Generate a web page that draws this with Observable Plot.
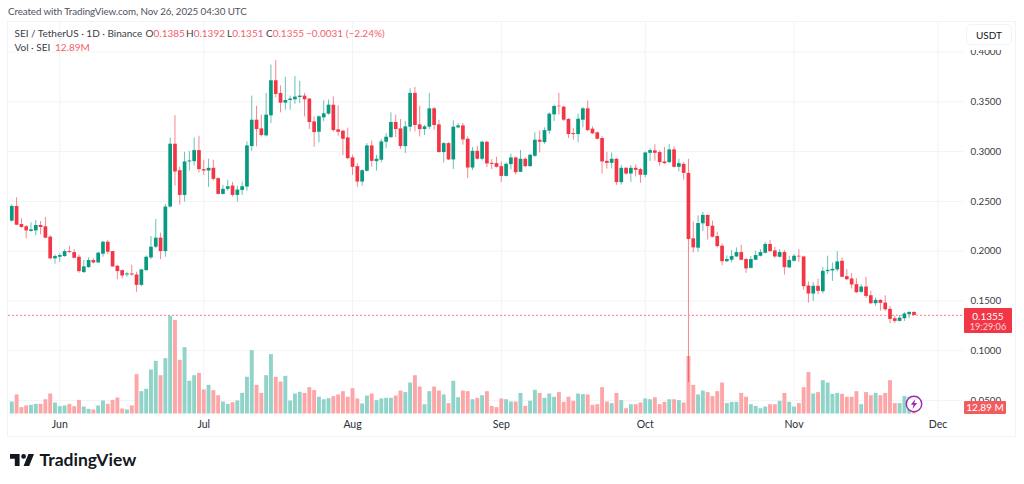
<!DOCTYPE html>
<html>
<head>
<meta charset="utf-8">
<script src="https://cdn.jsdelivr.net/npm/d3@7"></script>
<script src="https://cdn.jsdelivr.net/npm/@observablehq/plot@0.6"></script>
<style>
html,body{margin:0;padding:0;background:#fff;}
#wrap{position:relative;width:1024px;height:484px;overflow:hidden;font-family:Lato,sans-serif;color:#3a3d47;}
#wrap svg{display:block;}
.t{position:absolute;white-space:nowrap;line-height:1;}
.r{color:#f5606c;}
.l{font-size:10px;top:28px;}
</style>
</head>
<body>
<div id="wrap">
  <div id="chart"></div>
  <div class="t" style="left:7px;top:21px;width:1007px;height:414px;border:1px solid #f2f3f6;"></div>
  <div class="t" style="left:8px;top:7px;font-size:9.8px;letter-spacing:-0.1px;color:#50535e;">Created with TradingView.com, Nov 26, 2025 04:30 UTC</div>
  <div class="t l" style="left:14.5px;">SEI / TetherUS · 1D · Binance</div>
  <div class="t l" style="left:145.5px;">O<span class="r">0.1385</span></div>
  <div class="t l" style="left:186px;">H<span class="r">0.1392</span></div>
  <div class="t l" style="left:227px;">L<span class="r">0.1351</span></div>
  <div class="t l" style="left:266px;">C<span class="r">0.1355</span></div>
  <div class="t l r" style="left:306px;">−0.0031 (−2.24%)</div>
  <div class="t l" style="left:14.5px;top:42px;">Vol · SEI</div>
  <div class="t l r" style="left:55px;top:42px;">12.89M</div>

  <div class="t" style="left:964px;top:22px;width:50px;height:28px;background:#fff;"></div>
  <div class="t" style="left:966px;top:24px;width:46px;height:21px;border:1px solid #f0f3fa;border-radius:5px;box-sizing:border-box;background:#fff;font-size:10px;line-height:20px;text-align:center;color:#131722;">USDT</div>

  <div class="t" style="left:964px;top:308px;width:48px;height:25px;background:#f23645;border-radius:1px;color:#fff;text-align:center;">
    <div style="font-size:10px;margin-top:2.5px;">0.1355</div>
    <div style="font-size:9.2px;margin-top:1.5px;color:#fcd5d9;">19:29:06</div>
  </div>
  <div class="t" style="left:964px;top:401px;width:42px;height:12.5px;background:#f45b5f;border-radius:1px;color:#fff;text-align:center;font-size:10px;line-height:12.5px;">12.89 M</div>

  <svg class="t" style="left:903.5px;top:393.5px;" width="20" height="20" viewBox="0 0 20 20">
    <circle cx="10" cy="10" r="7.7" fill="#fff" stroke="#9c27b0" stroke-width="1.4"></circle>
    <path d="M11.4 5 L6.8 10.8 H9.6 L8.4 15 L13.2 8.9 H10.3 Z" fill="#9c27b0"></path>
  </svg>

  <svg class="t" style="left:9.5px;top:454px;" width="24" height="12" viewBox="2 6 30 15">
    <path d="M14 6H2v6h6v9h6V6Zm12 15h-7l6-15h7l-6 15Zm-7-9a3 3 0 1 0 0-6 3 3 0 0 0 0 6Z" fill="#131722" fill-rule="evenodd"></path>
  </svg>
  <div class="t" style="left:39.5px;top:451px;font-size:17.5px;font-weight:700;color:#131722;">TradingView</div>
</div>
<script>
const open = [.2302,.2449,.2268,.2245,.2198,.2204,.2258,.2245,.2141,.1923,.1939,.1946,.1996,.1986,.1939,.1785,.1835,.1906,.1882,.1970,
.2090,.1996,.1849,.1805,.1761,.1771,.1761,.1657,.1805,.1933,.2040,.2131,.1996,.2443,.3074,.2808,.2560,.2896,.2899,.3010,
.2819,.2805,.2832,.2728,.2570,.2621,.2654,.2560,.2610,.2644,.3050,.3315,.3228,.3158,.3359,.3711,.3584,.3486,.3513,.3520,
.3543,.3557,.3527,.3298,.3194,.3339,.3376,.3466,.3218,.3204,.3137,.2936,.2849,.2694,.2802,.3057,.2899,.2913,.3094,.3141,
.3292,.3228,.3050,.3245,.3584,.3268,.3221,.3245,.3429,.3268,.2990,.3080,.2916,.3238,.3258,.3124,
.2835,.3003,.2923,.3094,.2882,.2879,.2849,.2751,.2869,.2936,.2792,.2923,.2849,.2953,.3114,.3090,.3205,.3369,.3456,.3446,
.3322,.3181,.3171,.3315,.3429,.3225,.3188,.3131,.2902,.2882,.2923,.2688,.2832,.2775,.2832,.2819,.2762,.2983,.3007,.2990,
.2896,.2889,.3017,.2842,.2872,.2781,.2124,.2030,.2275,.2359,.2251,.2147,.2050,.1895,.1909,.1942,.1986,.1916,.1828,.1909,
.1949,.1979,.2067,.2003,.1939,.1986,.1832,.1899,.1949,.1942,.1650,.1570,.1647,.1593,.1795,.1802,.1812,.1899,.1744,.1721,
.1664,.1587,.1640,.1553,.1473,.1506,.1479,.1416,.1322,.1295,.1322,.1362,.1385];
const high = [.2466,.2537,.2325,.2258,.2285,.2308,.2298,.2339,.2154,.1963,.1973,.2013,.2050,.2016,.1963,.1906,.1933,.1923,.1990,.2100,
.2107,.1996,.1855,.1812,.1788,.1859,.1788,.1818,.1953,.2147,.2319,.2181,.2470,.3137,.3362,.2845,.2993,.3000,.3137,.3154,
.2913,.2923,.2913,.2735,.2661,.2711,.2691,.2651,.2694,.3097,.3557,.3456,.3366,.3584,.3869,.3913,.3658,.3745,.3557,.3752,
.3705,.3584,.3533,.3349,.3359,.3510,.3517,.3550,.3460,.3215,.3235,.2963,.2879,.2819,.3080,.3107,.2963,.3121,.3181,.3389,
.3366,.3322,.3302,.3631,.3644,.3456,.3262,.3584,.3443,.3315,.3090,.3090,.3309,.3282,.3282,.3147,
.3040,.3054,.3104,.3100,.2919,.2943,.2896,.2886,.2973,.2946,.3010,.2936,.2973,.3188,.3205,.3238,.3389,.3466,.3584,.3456,
.3332,.3231,.3376,.3443,.3507,.3248,.3198,.3154,.2993,.2986,.2929,.2862,.2839,.2859,.2866,.2832,.2996,.3030,.3070,.3007,
.3040,.3070,.3047,.2923,.2889,.2922,.2292,.2355,.2389,.2362,.2302,.2191,.2073,.1952,.2006,.2033,.2060,.1926,.1946,.2000,
.2016,.2087,.2107,.2040,.2016,.2006,.1949,.1966,.2016,.1949,.1691,.1684,.1718,.1838,.1949,.1882,.1996,.1932,.1815,.1775,
.1724,.1664,.1738,.1597,.1530,.1513,.1553,.1446,.1345,.1355,.1382,.1389,.1392];
const low = [.2292,.2255,.2231,.2124,.2191,.2157,.2164,.2124,.1916,.1869,.1889,.1939,.1980,.1923,.1778,.1778,.1829,.1872,.1879,.1939,
.1966,.1839,.1714,.1721,.1738,.1748,.1587,.1644,.1798,.1916,.2027,.1916,.1939,.2433,.2654,.2463,.2493,.2805,.2855,.2785,
.2761,.2641,.2704,.2563,.2563,.2604,.2543,.2493,.2560,.2604,.3003,.3047,.3147,.3147,.3282,.3540,.3389,.3416,.3416,.3476,
.3483,.3349,.3221,.3043,.3087,.3298,.3366,.3198,.3154,.2960,.2919,.2761,.2641,.2651,.2795,.2845,.2805,.2886,.3030,.3131,
.3141,.3023,.2980,.3198,.3198,.3147,.3161,.3221,.3215,.2986,.2886,.2909,.2819,.3228,.3064,.2728,
.2809,.2916,.2906,.2839,.2819,.2835,.2691,.2745,.2815,.2765,.2788,.2839,.2842,.2939,.2986,.3074,.3174,.3302,.3366,.3302,
.3131,.3114,.3087,.3238,.3201,.3174,.3117,.2775,.2825,.2825,.2661,.2664,.2762,.2691,.2745,.2681,.2738,.2902,.2902,.2852,
.2872,.2879,.2835,.2795,.2714,.0682,.1983,.1989,.2198,.2110,.2134,.2033,.1852,.1885,.1882,.1936,.1902,.1778,.1822,.1906,
.1942,.1973,.1989,.1929,.1932,.1761,.1828,.1892,.1889,.1607,.1479,.1496,.1563,.1570,.1765,.1697,.1791,.1734,.1704,.1620,
.1577,.1577,.1526,.1466,.1446,.1399,.1395,.1271,.1275,.1291,.1295,.1322,.1351];
const close = [.2449,.2261,.2238,.2204,.2214,.2258,.2238,.2131,.1923,.1946,.1956,.1996,.1986,.1929,.1795,.1842,.1906,.1882,.1980,.2090,
.1990,.1842,.1795,.1751,.1771,.1761,.1657,.1812,.1939,.2040,.2131,.1996,.2443,.3074,.2795,.2560,.2896,.2906,.3010,.2819,
.2805,.2832,.2721,.2570,.2621,.2647,.2560,.2614,.2647,.3057,.3315,.3221,.3161,.3366,.3711,.3574,.3486,.3513,.3527,.3547,
.3557,.3520,.3292,.3191,.3349,.3379,.3466,.3211,.3194,.3124,.2929,.2842,.2694,.2808,.3057,.2902,.2923,.3097,.3144,.3292,
.3221,.3050,.3248,.3584,.3262,.3221,.3248,.3429,.3262,.2990,.3080,.2916,.3245,.3258,.3117,.2835,
.3003,.2923,.3094,.2876,.2872,.2842,.2751,.2872,.2936,.2788,.2923,.2849,.2963,.3114,.3094,.3211,.3376,.3453,.3450,.3315,
.3171,.3171,.3325,.3429,.3211,.3178,.3124,.2896,.2882,.2923,.2688,.2832,.2775,.2832,.2812,.2762,.2986,.3010,.2983,.2889,
.2879,.3017,.2842,.2879,.2781,.2117,.2033,.2278,.2359,.2248,.2140,.2046,.1895,.1916,.1946,.1986,.1909,.1822,.1916,.1956,
.1986,.2067,.1996,.1942,.1986,.1835,.1906,.1949,.1942,.1644,.1570,.1647,.1597,.1798,.1808,.1818,.1892,.1738,.1714,.1661,
.1583,.1640,.1546,.1473,.1506,.1476,.1412,.1315,.1295,.1328,.1369,.1386,.1355];
const volumeM = [77,123,41,52,56,62,62,92,129,71,47,52,62,47,88,45,30,26,52,84,62,88,103,32,26,52,254,144,159,284,340,247,357,630,604,346,428,211,247,262,155,185,151,118,77,62,73,84,133,237,409,185,133,247,383,237,206,243,84,129,140,133,170,151,108,92,99,112,123,
144,108,163,97,65,116,129,86,97,101,101,116,148,138,200,247,174,60,144,174,148,123,67,211,105,148,144,92,101,118,144,49,41,97,92,77,77,133,49,82,153,133,101,129,108,138,75,108,82,129,125,123,56,60,170,77,67,133,86,34,60,60,71,97,92,105,60,75,92,
92,86,71,370,185,123,148,138,112,144,200,67,75,75,133,108,60,49,34,45,60,60,82,133,75,45,67,170,267,129,138,215,200,127,133,127,108,108,144,60,138,118,133,118,133,215,67,67,112,108,12.89];

const firstDay = "2025-05-22";
const lastDay = "2025-11-26";
const priceTicks = [0.05,0.10,0.15,0.20,0.25,0.30,0.35,0.40];
const monthTicks = ["2025-06-01","2025-07-01","2025-08-01","2025-09-01","2025-10-01","2025-11-01","2025-12-01"].map(d=>new Date(d));
const lastClose = close[close.length-1];
const xDomain = ["2025-05-21T07:30Z","2025-12-06T07:30Z"].map(d=>new Date(d));
const yDomain = [0.03504,0.4306];

const up = "#089981", down = "#f23645";
const volUp = "#8fd3c9", volDown = "#fca6a8";
const grid = "#f2f3f5", gridPink = "#fbf2f4";

const dates = d3.utcDay.range(new Date(firstDay), d3.utcDay.offset(new Date(lastDay),1));
for (const a of [open,high,low,close,volumeM]) if (a.length !== dates.length) throw new Error("length "+a.length+" vs "+dates.length);

const candles = dates.map((date,i)=>({date,open:open[i],high:high[i],low:low[i],close:close[i],volume:volumeM[i],rising:close[i]>=open[i]}));

// Volume shares the price axis frame: it is overlaid on the price scale
const volBase = 0.03655, volPerM = 0.0001556;

const chart = Plot.plot({
  width:1024, height:484,
  marginLeft:8, marginRight:61, marginTop:21, marginBottom:69,
  style:{fontFamily:"Lato,sans-serif",background:"#fff",overflow:"visible"},
  x:{type:"utc",domain:xDomain},
  y:{domain:yDomain},
  marks:[
    Plot.ruleX(monthTicks,{stroke:grid,strokeWidth:1}),
    Plot.ruleY(priceTicks,{stroke:d=>d===0.10?gridPink:grid,strokeWidth:1}),
    Plot.ruleX(candles,{x:"date",y1:volBase,y2:d=>volBase+d.volume*volPerM,stroke:d=>d.rising?volUp:volDown,strokeWidth:3.9}),
    Plot.ruleX(candles,{x:"date",y1:"low",y2:"high",stroke:d=>d.rising?up:down,strokeWidth:1,strokeOpacity:0.6}),
    Plot.ruleY([lastClose],{stroke:"#ff8f9a",strokeDasharray:"2 2",strokeWidth:1.2}),
    Plot.ruleX(candles,{x:"date",y1:"open",y2:"close",stroke:d=>d.rising?up:down,strokeWidth:3.7}),
    Plot.axisY({anchor:"right",ticks:priceTicks,tickFormat:d3.format(".4f"),tickSize:0,tickPadding:7,fontSize:9.8,color:"#3a3d47",label:null}),
    Plot.axisX({anchor:"bottom",ticks:monthTicks,tickFormat:d3.utcFormat("%b"),tickSize:0,tickPadding:5,fontSize:10.5,color:"#2a2e39",label:null})
  ]
});
document.getElementById("chart").appendChild(chart);
</script>
</body>
</html>
